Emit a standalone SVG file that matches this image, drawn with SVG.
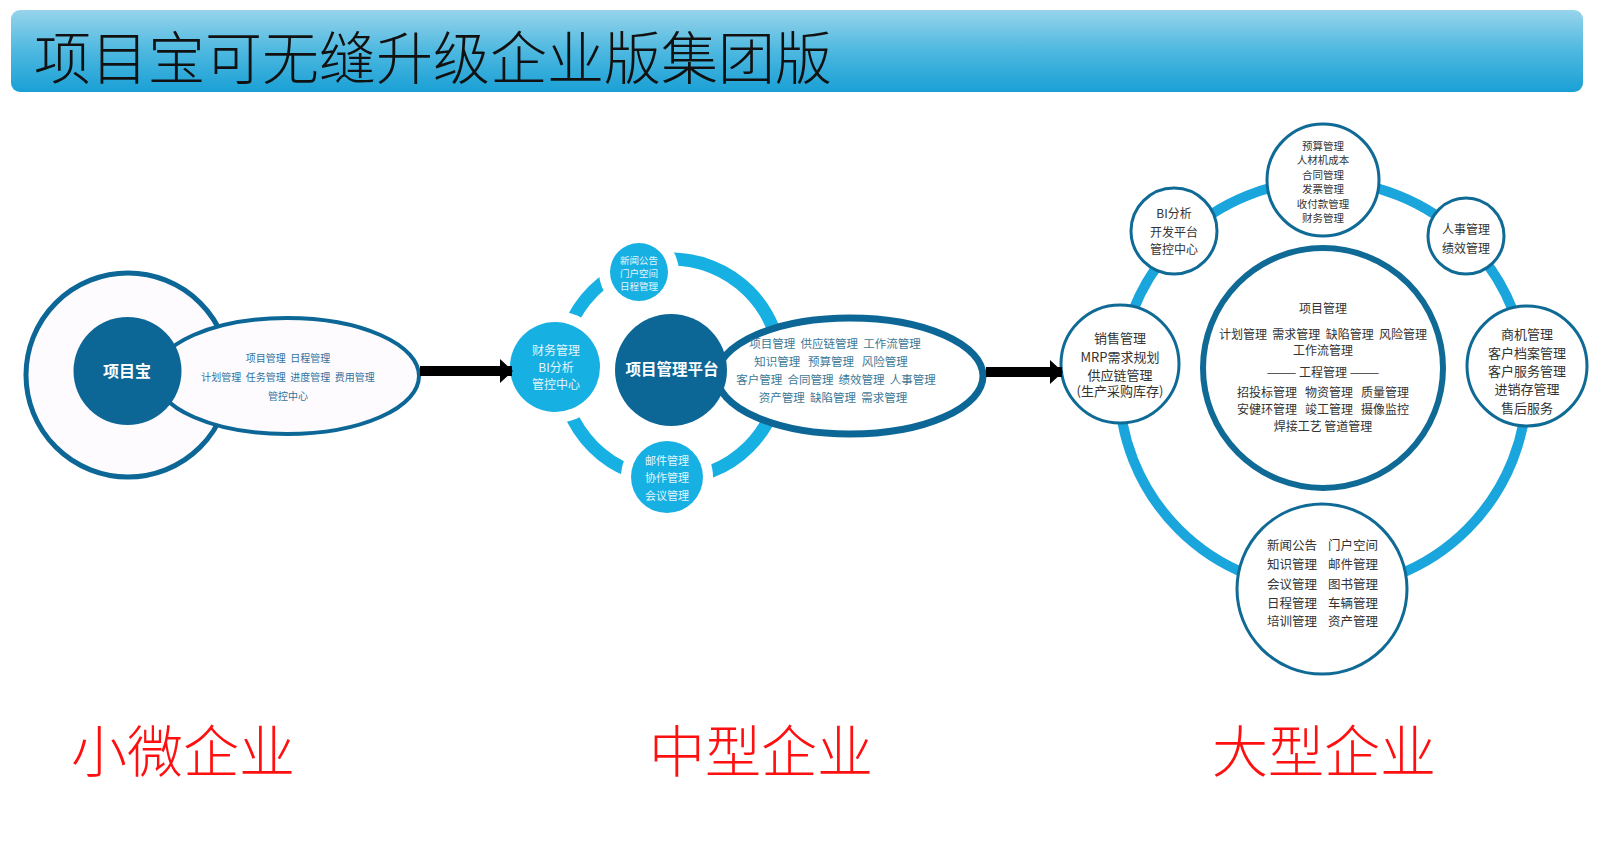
<svg xmlns="http://www.w3.org/2000/svg" width="1600" height="861" viewBox="0 0 1600 861">
<style>
text{font-family:"Noto Sans CJK SC","Noto Sans",sans-serif;dominant-baseline:central;text-anchor:middle;white-space:pre}
.title{font-size:57px;fill:#111;text-anchor:start;font-weight:300}
.red{font-size:56px;fill:#ff1010;text-anchor:start;font-weight:300}
.dk{fill:#0c6797}
.lb{fill:#17b0e2}
.halo{fill:#fff}
.wt{fill:#fff;font-weight:bold}
.lt{fill:#e3f5fc}
.et{fill:#2f72a0;font-size:10px}
.mt{fill:#3d7896;font-size:11.5px}
.gt{fill:#333;}
.rc{fill:#fff;stroke:#0f6a96;stroke-width:3}
.arrow{stroke:#000;stroke-width:10;marker-end:url(#ah)}
</style>
<defs>
<linearGradient id="tg" x1="0" y1="0" x2="0" y2="1">
<stop offset="0" stop-color="#97d4eb"/>
<stop offset="0.5" stop-color="#4db8e0"/>
<stop offset="1" stop-color="#1aa0d5"/>
</linearGradient>
<marker id="ah" viewBox="0 0 13 24" refX="12" refY="12" markerWidth="1.3" markerHeight="2.4" markerUnits="strokeWidth" orient="auto">
<path d="M0,0 L13,12 L0,24 z" fill="#000"/>
</marker>
</defs>
<rect width="1600" height="861" fill="#fff"/>
<g id="title">
<rect x="11" y="10" width="1572" height="82" rx="9" fill="url(#tg)"/>
<text class="title" x="34" y="54">项目宝可无缝升级企业版集团版</text>
</g>

<g id="small-enterprise">
<circle cx="128" cy="375" r="102" fill="#fdfbfd" stroke="#0c6797" stroke-width="5"/>
<ellipse cx="287" cy="376" rx="132" ry="58" fill="#fdfbfd" stroke="#0c6797" stroke-width="4"/>
<circle class="dk" cx="127.5" cy="371" r="54"/>
<text class="wt" x="127" y="370" font-size="16">项目宝</text>
<text class="et" x="288" y="357">项目管理  日程管理</text>
<text class="et" x="288" y="376">计划管理  任务管理  进度管理  费用管理</text>
<text class="et" x="288" y="395">管控中心</text>
</g>

<g id="medium-enterprise">
<circle cx="671" cy="369" r="110" fill="none" stroke="#17b0e2" stroke-width="13"/>
<ellipse cx="850" cy="376" rx="133" ry="58" fill="#fff" stroke="#0c6797" stroke-width="7"/>
<circle class="dk" cx="671" cy="370" r="56"/>
<text class="wt" x="672" y="368" font-size="15.5">项目管理平台</text>
<circle class="halo" cx="555" cy="367" r="56"/>
<circle class="lb" cx="555" cy="367" r="45"/>
<text class="lt" x="556" y="349" font-size="12">财务管理</text>
<text class="lt" x="556" y="366" font-size="12">BI分析</text>
<text class="lt" x="556" y="383" font-size="12">管控中心</text>
<circle class="halo" cx="639" cy="272" r="40"/>
<circle class="lb" cx="639" cy="272" r="29"/>
<text class="lt" x="639" y="260" font-size="9.5">新闻公告</text>
<text class="lt" x="639" y="273" font-size="9.5">门户空间</text>
<text class="lt" x="639" y="286" font-size="9.5">日程管理</text>
<circle class="halo" cx="667" cy="477" r="46"/>
<circle class="lb" cx="667" cy="477" r="36"/>
<text class="lt" x="667" y="460" font-size="11">邮件管理</text>
<text class="lt" x="667" y="477" font-size="11">协作管理</text>
<text class="lt" x="667" y="495" font-size="11">会议管理</text>
<text class="mt" x="835" y="343">项目管理  供应链管理  工作流管理</text>
<text class="mt" x="831" y="361">知识管理   预算管理   风险管理</text>
<text class="mt" x="836" y="379">客户管理  合同管理  绩效管理  人事管理</text>
<text class="mt" x="833" y="397">资产管理  缺陷管理  需求管理</text>
</g>

<g id="large-enterprise">
<circle cx="1323" cy="385" r="204" fill="none" stroke="#1aa6dc" stroke-width="10"/>
<g id="core">
<circle cx="1323" cy="368" r="120" fill="#fff" stroke="#0f6a96" stroke-width="6"/>
<text class="gt" x="1323" y="307" font-size="12">项目管理</text>
<text class="gt" x="1323" y="333" font-size="12">计划管理  需求管理  缺陷管理  风险管理</text>
<text class="gt" x="1323" y="349" font-size="12">工作流管理</text>
<text class="gt" x="1323" y="371" font-size="12">——— 工程管理 ———</text>
<text class="gt" x="1323" y="391" font-size="12">招投标管理   物资管理   质量管理</text>
<text class="gt" x="1323" y="408" font-size="12">安健环管理   竣工管理   摄像监控</text>
<text class="gt" x="1323" y="425" font-size="12">焊接工艺 管道管理</text>
</g>
<g id="finance">
<circle class="rc" cx="1323" cy="180" r="56"/>
<text class="gt" x="1323" y="145" font-size="10.5">预算管理</text>
<text class="gt" x="1323" y="159" font-size="10.5">人材机成本</text>
<text class="gt" x="1323" y="174" font-size="10.5">合同管理</text>
<text class="gt" x="1323" y="188" font-size="10.5">发票管理</text>
<text class="gt" x="1323" y="203" font-size="10.5">收付款管理</text>
<text class="gt" x="1323" y="217" font-size="10.5">财务管理</text>
</g>
<g id="bi">
<circle class="rc" cx="1174" cy="231" r="43"/>
<text class="gt" x="1174" y="212" font-size="12">BI分析</text>
<text class="gt" x="1174" y="231" font-size="12">开发平台</text>
<text class="gt" x="1174" y="248" font-size="12">管控中心</text>
</g>
<g id="hr">
<circle class="rc" cx="1466" cy="236" r="38"/>
<text class="gt" x="1466" y="228" font-size="12">人事管理</text>
<text class="gt" x="1466" y="247" font-size="12">绩效管理</text>
</g>
<g id="sales">
<circle class="rc" cx="1120" cy="364" r="59"/>
<text class="gt" x="1120" y="337" font-size="13">销售管理</text>
<text class="gt" x="1120" y="356" font-size="13">MRP需求规划</text>
<text class="gt" x="1120" y="374" font-size="13">供应链管理</text>
<text class="gt" x="1120" y="390" font-size="13">(生产采购库存)</text>
</g>
<g id="crm">
<circle class="rc" cx="1527" cy="366" r="60"/>
<text class="gt" x="1527" y="333" font-size="13">商机管理</text>
<text class="gt" x="1527" y="352" font-size="13">客户档案管理</text>
<text class="gt" x="1527" y="370" font-size="13">客户服务管理</text>
<text class="gt" x="1527" y="388" font-size="13">进销存管理</text>
<text class="gt" x="1527" y="407" font-size="13">售后服务</text>
</g>
<g id="office">
<circle class="rc" cx="1322" cy="589" r="85"/>
<text class="gt" x="1292" y="544" font-size="12.5">新闻公告</text>
<text class="gt" x="1353" y="544" font-size="12.5">门户空间</text>
<text class="gt" x="1292" y="563" font-size="12.5">知识管理</text>
<text class="gt" x="1353" y="563" font-size="12.5">邮件管理</text>
<text class="gt" x="1292" y="583" font-size="12.5">会议管理</text>
<text class="gt" x="1353" y="583" font-size="12.5">图书管理</text>
<text class="gt" x="1292" y="602" font-size="12.5">日程管理</text>
<text class="gt" x="1353" y="602" font-size="12.5">车辆管理</text>
<text class="gt" x="1292" y="620" font-size="12.5">培训管理</text>
<text class="gt" x="1353" y="620" font-size="12.5">资产管理</text>
</g>
</g>

<g id="connectors">
<line class="arrow" x1="420" y1="371" x2="512" y2="371"/>
<line class="arrow" x1="986" y1="372" x2="1062" y2="372"/>
</g>

<g id="labels">
<text class="red" x="71" y="747">小微企业</text>
<text class="red" x="649" y="747">中型企业</text>
<text class="red" x="1212" y="747">大型企业</text>
</g>
</svg>
